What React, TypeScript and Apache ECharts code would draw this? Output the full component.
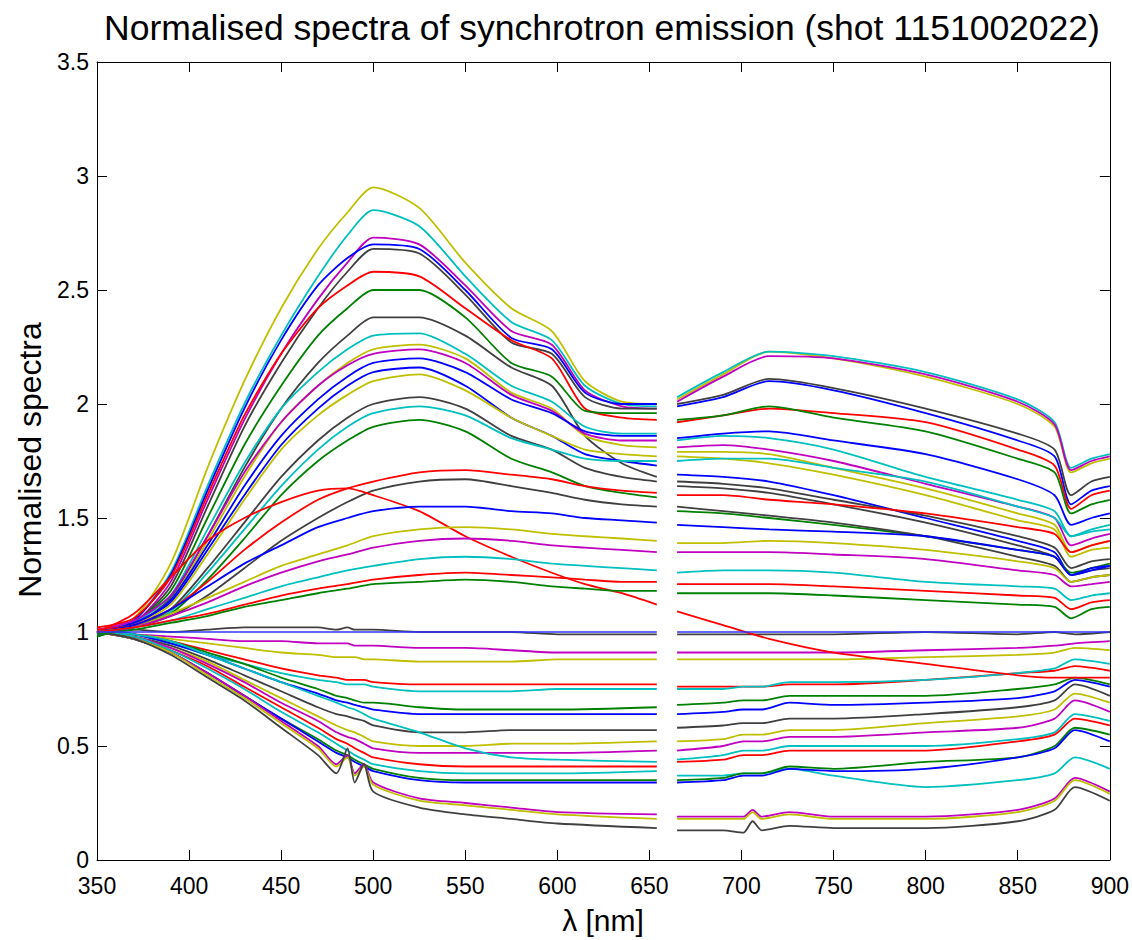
import React, { useEffect, useRef } from "react";
import * as echarts from "echarts";

const TITLE = "Normalised spectra of synchrotron emission (shot 1151002022)";
const X_NAME = "λ [nm]";
const Y_NAME = "Normalised spectra";
const FONT = "'Liberation Sans', Arial, Helvetica, sans-serif";

const COLORS: Record<string, string> = {
  b: "#0000ff",
  g: "#008000",
  r: "#ff0000",
  c: "#00bfbf",
  m: "#bf00bf",
  y: "#bfbf00",
  k: "#404040",
};

const GAP_WL = 660;

// wavelength grids (nm)
const WL_UP_LEFT = [350, 370, 390, 410, 430, 450, 470, 486, 500, 525, 550, 575, 597, 615, 635, 654];
const WL_UP_RIGHT = [665, 690, 715, 750, 800, 850, 870, 879, 890, 900];
const WL_LO_LEFT = [350, 370, 390, 410, 430, 450, 470, 480, 486, 490, 495, 500, 525, 550, 575, 600, 654];
const WL_LO_RIGHT = [665, 690, 701, 706, 711, 726, 750, 800, 850, 870, 881, 900];

// spectra above 1 (colour, left segment, right segment)
const UPPER = [
  { c: "y", l: [1.00, 1.06, 1.30, 1.72, 2.10, 2.42, 2.68, 2.84, 2.95, 2.86, 2.62, 2.42, 2.32, 2.10, 2.01, 2.00], r: [2.02, 2.13, 2.23, 2.20, 2.12, 2.00, 1.90, 1.70, 1.74, 1.76] },
  { c: "c", l: [0.99, 1.05, 1.26, 1.64, 2.00, 2.30, 2.56, 2.74, 2.85, 2.78, 2.56, 2.36, 2.28, 2.08, 2.00, 1.99], r: [2.03, 2.14, 2.23, 2.21, 2.14, 2.02, 1.92, 1.72, 1.76, 1.78] },
  { c: "m", l: [1.01, 1.04, 1.22, 1.58, 1.93, 2.22, 2.46, 2.62, 2.73, 2.70, 2.52, 2.32, 2.26, 2.06, 1.99, 1.98], r: [2.01, 2.12, 2.21, 2.20, 2.13, 2.01, 1.91, 1.71, 1.75, 1.77] },
  { c: "b", l: [0.98, 1.05, 1.25, 1.62, 1.98, 2.28, 2.52, 2.64, 2.70, 2.68, 2.50, 2.29, 2.24, 2.05, 2.00, 2.00], r: [1.99, 2.03, 2.10, 2.06, 1.96, 1.84, 1.77, 1.56, 1.62, 1.64] },
  { c: "k", l: [1.00, 1.04, 1.20, 1.55, 1.90, 2.18, 2.42, 2.58, 2.68, 2.66, 2.48, 2.27, 2.22, 2.03, 1.98, 1.98], r: [2.00, 2.04, 2.11, 2.07, 1.98, 1.87, 1.80, 1.60, 1.66, 1.68] },
  { c: "r", l: [1.02, 1.06, 1.24, 1.60, 1.95, 2.22, 2.42, 2.52, 2.58, 2.56, 2.42, 2.28, 2.20, 1.98, 1.94, 1.93], r: [1.92, 1.95, 1.98, 1.96, 1.92, 1.80, 1.73, 1.54, 1.60, 1.62] },
  { c: "g", l: [0.98, 1.04, 1.18, 1.50, 1.82, 2.08, 2.30, 2.42, 2.50, 2.50, 2.38, 2.18, 2.12, 1.97, 1.96, 1.96], r: [1.93, 1.95, 1.99, 1.94, 1.88, 1.76, 1.70, 1.52, 1.56, 1.58] },
  { c: "k", l: [1.00, 1.03, 1.15, 1.42, 1.72, 1.98, 2.18, 2.30, 2.38, 2.38, 2.30, 2.16, 2.08, 1.86, 1.74, 1.68], r: [1.64, 1.63, 1.61, 1.56, 1.48, 1.38, 1.33, 1.25, 1.27, 1.28] },
  { c: "c", l: [0.99, 1.04, 1.16, 1.45, 1.74, 1.98, 2.14, 2.24, 2.30, 2.31, 2.22, 2.08, 2.01, 1.90, 1.87, 1.87], r: [1.84, 1.86, 1.85, 1.80, 1.68, 1.58, 1.53, 1.42, 1.45, 1.47] },
  { c: "y", l: [1.00, 1.03, 1.14, 1.40, 1.68, 1.92, 2.08, 2.18, 2.24, 2.26, 2.20, 2.05, 1.98, 1.86, 1.82, 1.81], r: [1.79, 1.79, 1.78, 1.72, 1.63, 1.52, 1.47, 1.35, 1.38, 1.40] },
  { c: "m", l: [1.01, 1.05, 1.16, 1.42, 1.70, 1.92, 2.08, 2.17, 2.22, 2.24, 2.18, 2.04, 1.97, 1.87, 1.84, 1.84], r: [1.81, 1.82, 1.80, 1.75, 1.65, 1.55, 1.50, 1.38, 1.41, 1.43] },
  { c: "b", l: [0.99, 1.03, 1.14, 1.38, 1.64, 1.86, 2.02, 2.12, 2.18, 2.20, 2.14, 2.02, 1.96, 1.88, 1.86, 1.86], r: [1.85, 1.87, 1.88, 1.84, 1.78, 1.67, 1.60, 1.47, 1.50, 1.52] },
  { c: "b", l: [1.00, 1.04, 1.13, 1.36, 1.60, 1.82, 1.98, 2.08, 2.14, 2.16, 2.08, 1.94, 1.86, 1.78, 1.75, 1.73], r: [1.69, 1.68, 1.66, 1.60, 1.50, 1.40, 1.35, 1.25, 1.27, 1.29] },
  { c: "y", l: [1.00, 1.03, 1.12, 1.34, 1.58, 1.80, 1.95, 2.04, 2.10, 2.13, 2.06, 1.94, 1.86, 1.80, 1.78, 1.77], r: [1.77, 1.76, 1.74, 1.69, 1.60, 1.49, 1.45, 1.33, 1.36, 1.37] },
  { c: "k", l: [1.00, 1.02, 1.10, 1.28, 1.48, 1.68, 1.84, 1.94, 2.00, 2.03, 1.98, 1.86, 1.80, 1.72, 1.68, 1.66], r: [1.66, 1.65, 1.63, 1.58, 1.51, 1.42, 1.37, 1.28, 1.31, 1.32] },
  { c: "c", l: [0.99, 1.02, 1.09, 1.26, 1.45, 1.64, 1.80, 1.90, 1.96, 1.99, 1.95, 1.85, 1.80, 1.76, 1.75, 1.75], r: [1.75, 1.76, 1.76, 1.72, 1.66, 1.55, 1.50, 1.42, 1.44, 1.45] },
  { c: "g", l: [1.00, 1.02, 1.08, 1.23, 1.41, 1.60, 1.75, 1.84, 1.90, 1.93, 1.88, 1.76, 1.70, 1.64, 1.61, 1.59], r: [1.53, 1.52, 1.50, 1.47, 1.42, 1.36, 1.33, 1.26, 1.28, 1.30] },
  { c: "r", l: [1.01, 1.03, 1.10, 1.22, 1.36, 1.48, 1.58, 1.63, 1.66, 1.70, 1.71, 1.69, 1.67, 1.64, 1.62, 1.61], r: [1.60, 1.60, 1.58, 1.56, 1.52, 1.46, 1.43, 1.35, 1.38, 1.40] },
  { c: "k", l: [1.00, 1.02, 1.07, 1.16, 1.28, 1.40, 1.50, 1.57, 1.62, 1.66, 1.67, 1.64, 1.61, 1.58, 1.56, 1.55], r: [1.55, 1.53, 1.51, 1.48, 1.42, 1.33, 1.29, 1.22, 1.24, 1.25] },
  { c: "r", l: [1.00, 1.08, 1.24, 1.40, 1.50, 1.57, 1.62, 1.63, 1.60, 1.53, 1.42, 1.33, 1.26, 1.21, 1.17, 1.12], r: [1.09, 1.03, 0.97, 0.91, 0.86, 0.81, 0.80, 0.80, 0.80, 0.80] },
  { c: "b", l: [1.00, 1.03, 1.10, 1.20, 1.30, 1.38, 1.46, 1.50, 1.53, 1.55, 1.55, 1.53, 1.52, 1.50, 1.49, 1.48], r: [1.47, 1.46, 1.45, 1.44, 1.42, 1.36, 1.33, 1.25, 1.28, 1.29] },
  { c: "y", l: [1.00, 1.02, 1.08, 1.15, 1.22, 1.29, 1.34, 1.38, 1.42, 1.45, 1.46, 1.45, 1.43, 1.42, 1.41, 1.40], r: [1.39, 1.39, 1.40, 1.39, 1.36, 1.31, 1.28, 1.22, 1.24, 1.25] },
  { c: "m", l: [0.99, 1.02, 1.07, 1.13, 1.20, 1.26, 1.31, 1.34, 1.37, 1.40, 1.41, 1.40, 1.38, 1.37, 1.36, 1.35], r: [1.35, 1.35, 1.35, 1.34, 1.32, 1.27, 1.25, 1.20, 1.21, 1.22] },
  { c: "c", l: [1.00, 1.02, 1.05, 1.10, 1.15, 1.20, 1.24, 1.27, 1.29, 1.32, 1.33, 1.32, 1.30, 1.29, 1.28, 1.27], r: [1.26, 1.27, 1.27, 1.26, 1.22, 1.20, 1.19, 1.14, 1.16, 1.17] },
  { c: "r", l: [1.00, 1.02, 1.05, 1.08, 1.12, 1.16, 1.19, 1.21, 1.23, 1.25, 1.26, 1.25, 1.24, 1.23, 1.22, 1.22], r: [1.21, 1.21, 1.21, 1.20, 1.18, 1.16, 1.15, 1.10, 1.13, 1.14] },
  { c: "g", l: [0.99, 1.01, 1.04, 1.07, 1.11, 1.14, 1.17, 1.19, 1.21, 1.22, 1.23, 1.22, 1.20, 1.19, 1.18, 1.18], r: [1.17, 1.17, 1.17, 1.16, 1.14, 1.12, 1.11, 1.06, 1.10, 1.11] },
];

// spectra at or below 1
const LOWER = [
  { c: "k", l: [1.00, 1.01, 1.00, 1.01, 1.02, 1.02, 1.02, 1.01, 1.02, 1.01, 1.01, 1.01, 1.00, 1.00, 1.00, 0.99, 0.99], r: [0.99, 0.99, 0.99, 0.99, 0.99, 0.99, 0.99, 1.00, 0.99, 1.00, 0.99, 1.00] },
  { c: "m", l: [1.00, 0.99, 0.98, 0.97, 0.96, 0.96, 0.95, 0.95, 0.95, 0.94, 0.94, 0.94, 0.93, 0.93, 0.92, 0.91, 0.91], r: [0.91, 0.91, 0.91, 0.91, 0.91, 0.91, 0.91, 0.92, 0.93, 0.94, 0.95, 0.96] },
  { c: "y", l: [1.00, 0.99, 0.97, 0.95, 0.93, 0.91, 0.90, 0.89, 0.89, 0.89, 0.88, 0.88, 0.87, 0.87, 0.87, 0.88, 0.88], r: [0.88, 0.88, 0.88, 0.88, 0.88, 0.88, 0.88, 0.89, 0.90, 0.91, 0.93, 0.92] },
  { c: "r", l: [1.00, 0.99, 0.96, 0.92, 0.88, 0.84, 0.81, 0.80, 0.79, 0.79, 0.79, 0.78, 0.77, 0.77, 0.77, 0.77, 0.77], r: [0.76, 0.76, 0.76, 0.76, 0.76, 0.77, 0.77, 0.79, 0.82, 0.83, 0.85, 0.83] },
  { c: "c", l: [1.00, 0.99, 0.95, 0.90, 0.86, 0.82, 0.79, 0.78, 0.77, 0.77, 0.77, 0.76, 0.74, 0.74, 0.74, 0.75, 0.75], r: [0.75, 0.75, 0.76, 0.76, 0.76, 0.78, 0.78, 0.79, 0.82, 0.84, 0.88, 0.86] },
  { c: "g", l: [1.00, 0.99, 0.96, 0.91, 0.86, 0.80, 0.75, 0.72, 0.71, 0.70, 0.69, 0.69, 0.67, 0.66, 0.66, 0.66, 0.67], r: [0.68, 0.69, 0.70, 0.70, 0.70, 0.72, 0.72, 0.72, 0.75, 0.77, 0.80, 0.77] },
  { c: "b", l: [1.00, 0.99, 0.95, 0.90, 0.84, 0.78, 0.73, 0.70, 0.69, 0.68, 0.67, 0.66, 0.64, 0.64, 0.64, 0.64, 0.64], r: [0.64, 0.65, 0.66, 0.66, 0.66, 0.69, 0.68, 0.69, 0.71, 0.74, 0.79, 0.76] },
  { c: "k", l: [1.00, 0.98, 0.94, 0.88, 0.81, 0.74, 0.67, 0.64, 0.63, 0.62, 0.61, 0.59, 0.56, 0.56, 0.57, 0.57, 0.57], r: [0.58, 0.59, 0.60, 0.60, 0.60, 0.62, 0.62, 0.64, 0.67, 0.70, 0.77, 0.72] },
  { c: "y", l: [1.00, 0.98, 0.93, 0.87, 0.79, 0.71, 0.63, 0.59, 0.57, 0.56, 0.54, 0.52, 0.50, 0.50, 0.51, 0.51, 0.52], r: [0.52, 0.53, 0.55, 0.55, 0.55, 0.57, 0.57, 0.60, 0.63, 0.66, 0.73, 0.69] },
  { c: "m", l: [1.00, 0.98, 0.93, 0.86, 0.78, 0.69, 0.61, 0.56, 0.54, 0.53, 0.51, 0.49, 0.47, 0.47, 0.47, 0.47, 0.48], r: [0.48, 0.50, 0.52, 0.52, 0.52, 0.54, 0.54, 0.56, 0.58, 0.62, 0.70, 0.65] },
  { c: "c", l: [1.00, 0.99, 0.96, 0.90, 0.84, 0.78, 0.72, 0.69, 0.67, 0.66, 0.64, 0.62, 0.56, 0.49, 0.45, 0.44, 0.43], r: [0.44, 0.46, 0.48, 0.48, 0.48, 0.50, 0.50, 0.50, 0.53, 0.56, 0.64, 0.61] },
  { c: "r", l: [1.00, 0.98, 0.92, 0.85, 0.76, 0.67, 0.58, 0.53, 0.51, 0.49, 0.47, 0.45, 0.42, 0.41, 0.41, 0.41, 0.41], r: [0.43, 0.44, 0.46, 0.46, 0.46, 0.48, 0.48, 0.48, 0.52, 0.55, 0.62, 0.59] },
  { c: "c", l: [1.00, 0.98, 0.92, 0.84, 0.75, 0.65, 0.56, 0.51, 0.48, 0.46, 0.44, 0.42, 0.39, 0.38, 0.38, 0.38, 0.39], r: [0.37, 0.37, 0.38, 0.38, 0.38, 0.40, 0.37, 0.32, 0.35, 0.38, 0.45, 0.40] },
  { c: "g", l: [1.00, 0.97, 0.91, 0.82, 0.72, 0.62, 0.53, 0.48, 0.46, 0.44, 0.42, 0.40, 0.36, 0.35, 0.35, 0.35, 0.35], r: [0.35, 0.36, 0.38, 0.38, 0.38, 0.41, 0.40, 0.43, 0.45, 0.50, 0.58, 0.55] },
  { c: "b", l: [1.00, 0.97, 0.91, 0.82, 0.72, 0.62, 0.52, 0.47, 0.45, 0.43, 0.41, 0.39, 0.35, 0.34, 0.34, 0.34, 0.34], r: [0.34, 0.35, 0.37, 0.37, 0.37, 0.40, 0.39, 0.40, 0.45, 0.49, 0.57, 0.52] },
  { c: "m", l: [1.00, 0.97, 0.91, 0.82, 0.72, 0.61, 0.50, 0.42, 0.46, 0.38, 0.42, 0.34, 0.27, 0.25, 0.23, 0.21, 0.20], r: [0.19, 0.19, 0.19, 0.22, 0.19, 0.21, 0.19, 0.19, 0.22, 0.27, 0.36, 0.30] },
  { c: "y", l: [1.00, 0.97, 0.91, 0.81, 0.71, 0.60, 0.49, 0.41, 0.45, 0.37, 0.41, 0.33, 0.26, 0.24, 0.22, 0.20, 0.18], r: [0.18, 0.18, 0.18, 0.21, 0.18, 0.20, 0.18, 0.18, 0.21, 0.26, 0.35, 0.29] },
  { c: "k", l: [1.00, 0.97, 0.90, 0.80, 0.70, 0.58, 0.46, 0.38, 0.49, 0.34, 0.42, 0.30, 0.23, 0.20, 0.18, 0.16, 0.14], r: [0.13, 0.13, 0.12, 0.17, 0.13, 0.15, 0.14, 0.14, 0.17, 0.22, 0.32, 0.26] },
];

// reference level
const REF_WL_LEFT = [350, 654];
const REF_WL_RIGHT = [665, 900];
const REF_VALUE = 1;

const X_TICKS = { min: 350, max: 900, interval: 50 };
const Y_TICKS = { min: 0, max: 3.5, interval: 0.5 };

function buildData(wlL: number[], wlR: number[], l: number[], r: number[]) {
  const out: any[] = [];
  wlL.forEach((w, i) => out.push([w, l[i]]));
  out.push([GAP_WL, "-"]);
  wlR.forEach((w, i) => out.push([w, r[i]]));
  return out;
}

export default function App() {
  const ref = useRef<HTMLDivElement>(null);
  useEffect(() => {
    if (!ref.current) return;
    const chart = echarts.init(ref.current, undefined, { renderer: "svg" });

    const mkSeries = (data: any[], color: string, width = 1.8) => ({
      type: "line",
      data,
      showSymbol: false,
      symbol: "none",
      connectNulls: false,
      smooth: 0.25,
      silent: true,
      lineStyle: { color, width },
      z: 2,
    });

    const series: any[] = [];
    LOWER.forEach((s) => series.push(mkSeries(buildData(WL_LO_LEFT, WL_LO_RIGHT, s.l, s.r), COLORS[s.c])));
    UPPER.forEach((s) => series.push(mkSeries(buildData(WL_UP_LEFT, WL_UP_RIGHT, s.l, s.r), COLORS[s.c])));
    series.push({
      ...mkSeries(
        buildData(REF_WL_LEFT, REF_WL_RIGHT, REF_WL_LEFT.map(() => REF_VALUE), REF_WL_RIGHT.map(() => REF_VALUE)),
        "#3333ff",
        1.5
      ),
      smooth: false,
      z: 3,
    });

    const axisCommon = {
      axisLine: { show: true, onZero: false, lineStyle: { color: "#000", width: 1 } },
      axisTick: { show: true, inside: true, length: 10, lineStyle: { color: "#000", width: 1 } },
      splitLine: { show: false },
    };

    chart.setOption({
      animation: false,
      grid: { left: 97, right: 22, top: 62, bottom: 80, containLabel: false },
      xAxis: [
        {
          type: "value",
          ...X_TICKS,
          ...axisCommon,
          axisLabel: { color: "#000", fontSize: 23, fontFamily: FONT, margin: 14 },
        },
        {
          type: "value",
          position: "top",
          ...X_TICKS,
          ...axisCommon,
          axisLabel: { show: false },
        },
      ],
      yAxis: [
        {
          type: "value",
          ...Y_TICKS,
          ...axisCommon,
          axisLabel: {
            color: "#000",
            fontSize: 23,
            fontFamily: FONT,
            margin: 8,
            formatter: (v: number) => String(v),
          },
        },
        {
          type: "value",
          position: "right",
          ...Y_TICKS,
          ...axisCommon,
          axisLabel: { show: false },
        },
      ],
      graphic: [
        {
          type: "text",
          x: 602,
          y: 28,
          style: { text: TITLE, font: `35.5px ${FONT}`, fill: "#000", align: "center", verticalAlign: "middle" },
        },
        {
          type: "text",
          x: 603,
          y: 920,
          style: { text: X_NAME, font: `30px ${FONT}`, fill: "#000", align: "center", verticalAlign: "middle" },
        },
        {
          type: "text",
          x: 30,
          y: 460,
          rotation: Math.PI / 2,
          style: { text: Y_NAME, font: `32px ${FONT}`, fill: "#000", align: "center", verticalAlign: "middle" },
        },
      ],
      series,
    });

    return () => chart.dispose();
  }, []);

  return (
    <div
      ref={ref}
      style={{ position: "fixed", left: 0, top: 0, width: 1132, height: 940, background: "#fff" }}
    />
  );
}
